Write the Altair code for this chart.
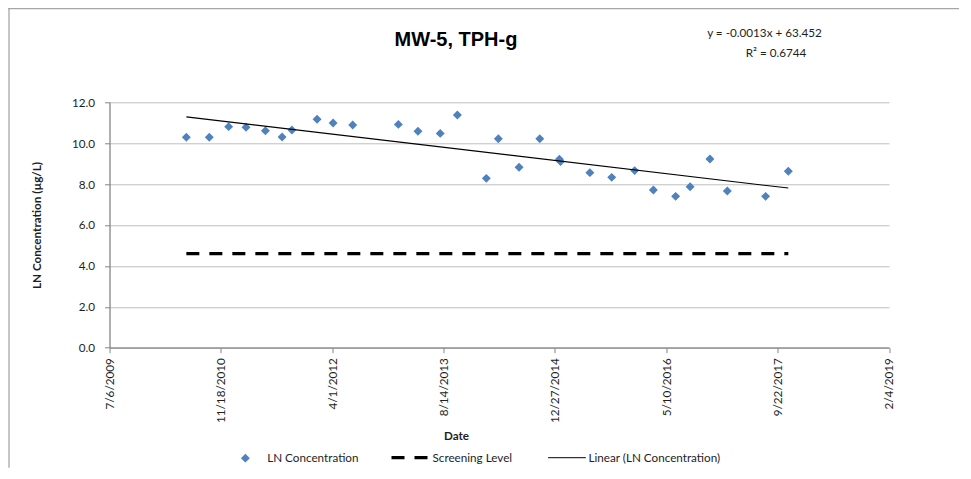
import altair as alt
import pandas as pd

# ---------------- data ----------------
dates = [
    "2010-06-16", "2010-09-27", "2010-12-23", "2011-03-11", "2011-06-06",
    "2011-08-20", "2011-10-03", "2012-01-24", "2012-04-05", "2012-07-02",
    "2013-01-23", "2013-04-21", "2013-07-30", "2013-10-15", "2014-02-22",
    "2014-04-17", "2014-07-19", "2014-10-20", "2015-01-16", "2015-01-21",
    "2015-06-02", "2015-09-08", "2015-12-20", "2016-03-13", "2016-06-21",
    "2016-08-25", "2016-11-22", "2017-02-08", "2017-07-30", "2017-11-09",
]
ln_conc = [
    10.29, 10.29, 10.81, 10.78, 10.61,
    10.30, 10.65, 11.17, 10.99, 10.89,
    10.92, 10.58, 10.48, 11.38, 8.28,
    10.22, 8.82, 10.22, 9.22, 9.10,
    8.56, 8.33, 8.66, 7.71, 7.40,
    7.87, 9.23, 7.66, 7.40, 8.63,
]
screening_level = 4.6

x_tick_dates = ["2009-07-06", "2010-11-18", "2012-04-01", "2013-08-14",
                "2014-12-27", "2016-05-10", "2017-09-22", "2019-02-04"]
y_ticks = [0, 2, 4, 6, 8, 10, 12]

series_names = ["LN Concentration", "Screening Level", "Linear (LN Concentration)"]
title_text = "MW-5, TPH-g"
equation_lines = ["y = -0.0013x + 63.452", "R² = 0.6744"]

# Excel-style serial day numbers (as the chart's x values)
EPOCH = pd.Timestamp("1899-12-30")
serial = [(pd.Timestamp(d) - EPOCH).days for d in dates]
tick_serial = [(pd.Timestamp(d) - EPOCH).days for d in x_tick_dates]

df = pd.DataFrame({"serial": serial, "value": ln_conc, "series": series_names[0]})
scr = pd.DataFrame({"serial": serial, "value": [screening_level] * len(serial),
                    "series": series_names[1]})

# ---------------- styling ----------------
FONT = "Lato"
TXT = "#1e1e1e"
FS = 11.7
PW, PH = 779.5, 245.4

x_enc = alt.X(
    "serial:Q",
    scale=alt.Scale(domain=[tick_serial[0], tick_serial[-1]], nice=False, zero=False),
    axis=alt.Axis(
        values=tick_serial,
        labelExpr="utcFormat((datum.value - 25569) * 86400000, '%-m/%-d/%Y')",
        labelAngle=270, labelPadding=5, labelFont=FONT, labelFontSize=FS,
        labelColor=TXT, grid=False, tickSize=5, tickColor="#868686",
        domainColor="#868686", domainWidth=1.3,
        title="Date", titleFont=FONT, titleFontSize=FS, titleFontWeight="bold",
        titleColor=TXT, titleX=346.5, titleY=88.3, titleBaseline="middle",
    ),
)
y_enc = alt.Y(
    "value:Q",
    scale=alt.Scale(domain=[0, 12], nice=False),
    axis=alt.Axis(
        values=y_ticks, format=".1f", labelPadding=10, labelFont=FONT,
        labelFontSize=FS, labelColor=TXT, grid=True, gridColor="#BFBFBF",
        gridWidth=1, tickSize=5, tickColor="#868686", domainColor="#868686",
        domainWidth=1.3,
        title="LN Concentration (µg/L)", titleFont=FONT, titleFontSize=FS,
        titleFontWeight="bold", titleColor=TXT, titleX=-73, titleY=PH / 2,
        titleBaseline="middle",
    ),
)

def legend(x, y, **kw):
    return alt.Legend(orient="none", legendX=x, legendY=y, title=None,
                      labelFont=FONT, labelFontSize=FS, labelColor=TXT,
                      padding=0, **kw)

points = alt.Chart(df).mark_point(shape="diamond", filled=True, size=80, opacity=1).encode(
    x=x_enc, y=y_enc,
    color=alt.Color("series:N", scale=alt.Scale(domain=[series_names[0]], range=["#4F81BD"]),
                    legend=legend(130, 350, symbolType="diamond", symbolSize=80,
                                  symbolStrokeWidth=0, labelOffset=16)),
)

screen = alt.Chart(scr).mark_line(strokeDash=[13, 10], strokeWidth=3.3, strokeCap="butt").encode(
    x=x_enc, y=y_enc,
    color=alt.Color("series:N", scale=alt.Scale(domain=[series_names[1]], range=["#000000"]),
                    legend=legend(280, 335.4, symbolType="stroke", symbolSize=1296,
                                  symbolStrokeWidth=3.3, symbolDash=[13, 10], labelOffset=3)),
)

trend = alt.Chart(df).transform_regression("serial", "value").transform_calculate(
    series="'" + series_names[2] + "'"
).mark_line(strokeWidth=1.1).encode(
    x=x_enc, y=y_enc,
    color=alt.Color("series:N", scale=alt.Scale(domain=[series_names[2]], range=["#000000"]),
                    legend=legend(438, 335.9, symbolType="stroke", symbolSize=1421,
                                  symbolStrokeWidth=1, symbolStrokeColor="#7f7f7f",
                                  labelOffset=2)),
)

title = alt.Chart(pd.DataFrame({"t": [title_text]})).mark_text(
    font="Liberation Sans", fontSize=20, fontWeight="bold", color="#000000",
    align="center", baseline="alphabetic",
).encode(text="t:N", x=alt.value(346.5), y=alt.value(-56.6))

eq1 = alt.Chart(pd.DataFrame({"t": [equation_lines[0]]})).mark_text(
    font=FONT, fontSize=FS, color=TXT, align="center", baseline="alphabetic",
).encode(text="t:N", x=alt.value(655), y=alt.value(-65))

eq2 = alt.Chart(pd.DataFrame({"t": [equation_lines[1]]})).mark_text(
    font=FONT, fontSize=FS, color=TXT, align="center", baseline="alphabetic",
).encode(text="t:N", x=alt.value(666.5), y=alt.value(-45.3))

# chart-area frame (top and left edges)
frame_top = alt.Chart(pd.DataFrame({"k": [0]})).mark_rule(color="#a6a6a6", strokeWidth=1.3).encode(
    x=alt.value(-101.5), x2=alt.value(PW + 70), y=alt.value(-93.6))
frame_left = alt.Chart(pd.DataFrame({"k": [0]})).mark_rule(color="#a6a6a6", strokeWidth=1.3).encode(
    x=alt.value(-100.5), y=alt.value(-94.3), y2=alt.value(PH + 120))

chart = alt.layer(
    frame_top, frame_left, points, screen, trend, title, eq1, eq2
).resolve_scale(color="independent").properties(
    width=PW, height=PH,
    autosize=alt.AutoSizeParams(type="none"),
    padding={"left": 101.5, "top": 94.3, "right": 70, "bottom": 120},
).configure_view(stroke=None)

chart.save("out.html", embed_options={"renderer": "svg", "actions": False})
